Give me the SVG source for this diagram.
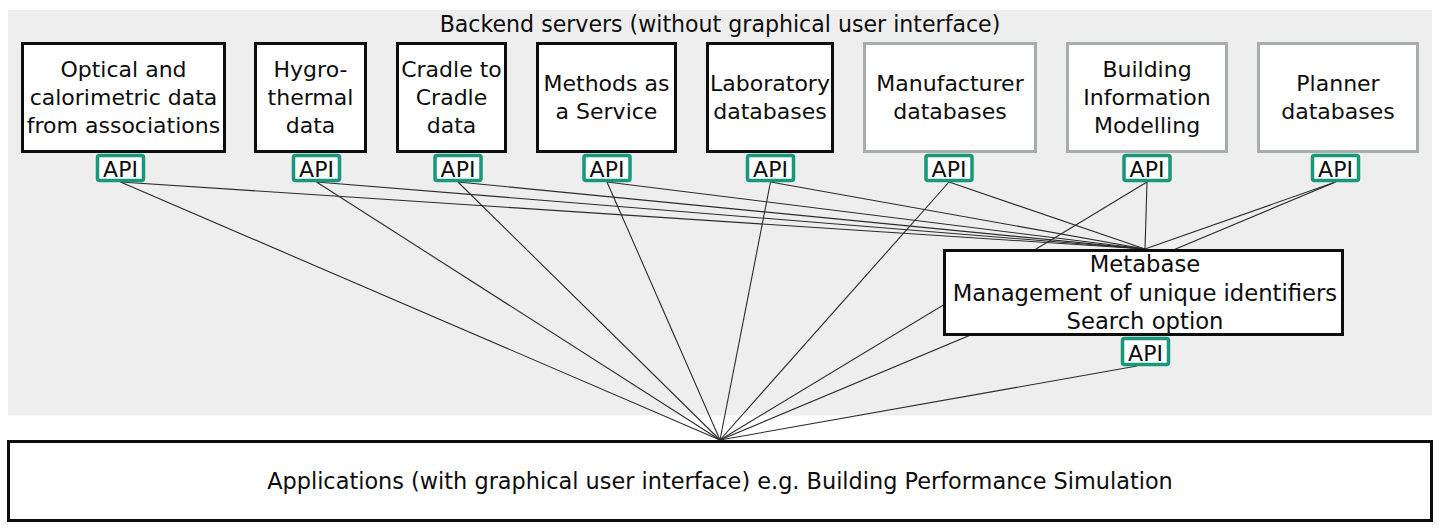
<svg xmlns="http://www.w3.org/2000/svg" width="1440" height="531" viewBox="0 0 1440 531">
<style>
text{font-family:"DejaVu Sans","Open Sans","Liberation Sans",sans-serif;fill:#0d0d0d;text-anchor:middle}
.h{font-size:22.1px}
.t{font-size:22.7px}
.b{font-size:22.4px}
.n{font-size:22px}
.api{font-size:22px}
.node{fill:#fff;stroke:#0d0d0d;stroke-width:3}
.gnode{fill:#fff;stroke:#a7adaa;stroke-width:3}
.apib{fill:#fff;stroke:#16987a;stroke-width:3.5}
.con line{stroke:#2a2a2a;stroke-width:1.1}
</style>
<rect x="8" y="10" width="1424" height="405.5" fill="#edeeed"/>
<text class="h" x="720" y="32">Backend servers (without graphical user interface)</text>
<g id="connectors" class="con">
<line x1="120.5" y1="182" x2="720" y2="440"/>
<line x1="316.5" y1="182" x2="720" y2="440"/>
<line x1="458" y1="182" x2="720" y2="440"/>
<line x1="607" y1="182" x2="720" y2="440"/>
<line x1="770.5" y1="182" x2="720" y2="440"/>
<line x1="949" y1="182" x2="720" y2="440"/>
<line x1="1147" y1="182" x2="720" y2="440"/>
<line x1="1335.5" y1="182" x2="720" y2="440"/>
<line x1="1137" y1="366" x2="720" y2="440"/>
<line x1="120.5" y1="182" x2="1145" y2="249"/>
<line x1="316.5" y1="182" x2="1145" y2="249"/>
<line x1="458" y1="182" x2="1145" y2="249"/>
<line x1="607" y1="182" x2="1145" y2="249"/>
<line x1="770.5" y1="182" x2="1145" y2="249"/>
<line x1="949" y1="182" x2="1145" y2="249"/>
<line x1="1147" y1="182" x2="1145" y2="249"/>
<line x1="1335.5" y1="182" x2="1145" y2="249"/>
</g>
<g id="n-optical">
<rect class="node" x="22.5" y="43.5" width="202" height="108"/>
<text class="n" x="123.5" y="77">Optical and<tspan x="123.5" dy="28">calorimetric data</tspan><tspan x="123.5" dy="28">from associations</tspan></text>
<rect class="apib" x="97.5" y="155.5" width="46" height="25" rx="2"/>
<text class="api" x="120.5" y="177">API</text>
</g>
<g id="n-hygro">
<rect class="node" x="255.5" y="43.5" width="110" height="108"/>
<text class="n" x="310.5" y="77">Hygro-<tspan x="310.5" dy="28">thermal</tspan><tspan x="310.5" dy="28">data</tspan></text>
<rect class="apib" x="293.5" y="155.5" width="46" height="25" rx="2"/>
<text class="api" x="316.5" y="177">API</text>
</g>
<g id="n-cradle">
<rect class="node" x="397.5" y="43.5" width="108" height="108"/>
<text class="n" x="451.5" y="77">Cradle to<tspan x="451.5" dy="28">Cradle</tspan><tspan x="451.5" dy="28">data</tspan></text>
<rect class="apib" x="435" y="155.5" width="46" height="25" rx="2"/>
<text class="api" x="458" y="177">API</text>
</g>
<g id="n-methods">
<rect class="node" x="537.5" y="43.5" width="138" height="108"/>
<text class="n" x="606.5" y="91">Methods as<tspan x="606.5" dy="28">a Service</tspan></text>
<rect class="apib" x="584" y="155.5" width="46" height="25" rx="2"/>
<text class="api" x="607" y="177">API</text>
</g>
<g id="n-lab">
<rect class="node" x="707.5" y="43.5" width="125" height="108"/>
<text class="n" x="770" y="91">Laboratory<tspan x="770" dy="28">databases</tspan></text>
<rect class="apib" x="747.5" y="155.5" width="46" height="25" rx="2"/>
<text class="api" x="770.5" y="177">API</text>
</g>
<g id="n-manufacturer">
<rect class="gnode" x="864.5" y="43.5" width="171" height="108"/>
<text class="n" x="950" y="91">Manufacturer<tspan x="950" dy="28">databases</tspan></text>
<rect class="apib" x="926" y="155.5" width="46" height="25" rx="2"/>
<text class="api" x="949" y="177">API</text>
</g>
<g id="n-bim">
<rect class="gnode" x="1067.5" y="43.5" width="159" height="108"/>
<text class="n" x="1147" y="77">Building<tspan x="1147" dy="28">Information</tspan><tspan x="1147" dy="28">Modelling</tspan></text>
<rect class="apib" x="1124" y="155.5" width="46" height="25" rx="2"/>
<text class="api" x="1147" y="177">API</text>
</g>
<g id="n-planner">
<rect class="gnode" x="1258.5" y="43.5" width="159" height="108"/>
<text class="n" x="1338" y="91">Planner<tspan x="1338" dy="28">databases</tspan></text>
<rect class="apib" x="1312.5" y="155.5" width="46" height="25" rx="2"/>
<text class="api" x="1335.5" y="177">API</text>
</g>
<g id="n-metabase">
<rect class="node" x="944.5" y="250.5" width="398" height="84"/>
<text class="t" x="1145" y="272">Metabase<tspan x="1145" dy="29">Management of unique identifiers</tspan><tspan x="1145" dy="28">Search option</tspan></text>
<rect class="apib" x="1122.5" y="338.5" width="46" height="26" rx="2"/>
<text class="api" x="1145.5" y="361">API</text>
</g>
<g id="n-applications">
<rect class="node" x="8.5" y="441.5" width="1423" height="79"/>
<text class="b" x="720" y="489">Applications (with graphical user interface) e.g. Building Performance Simulation</text>
</g>
</svg>
